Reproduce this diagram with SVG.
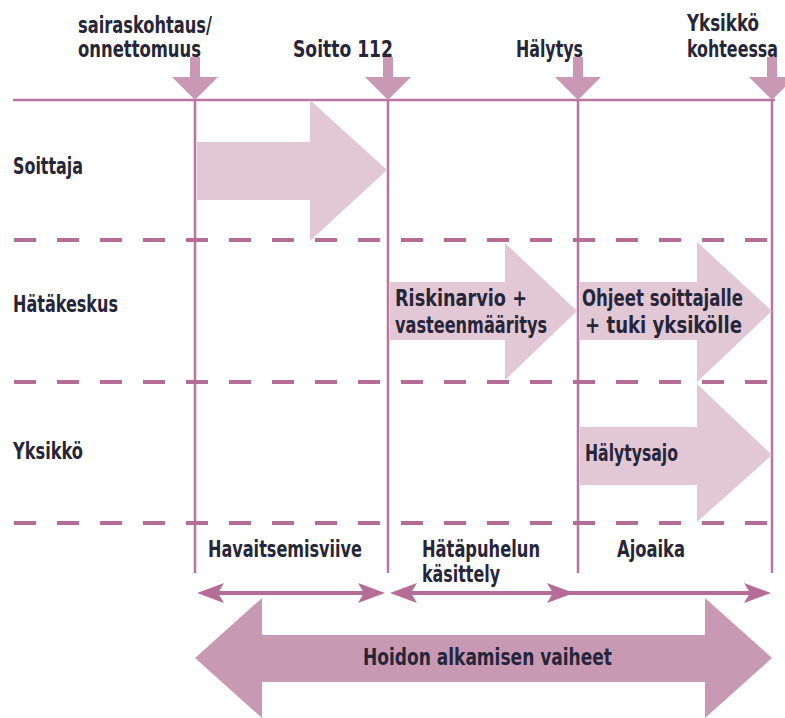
<svg xmlns="http://www.w3.org/2000/svg" width="785" height="718" viewBox="0 0 785 718">
<style>
.t{font-family:"Liberation Sans Narrow","DejaVu Sans Condensed","Liberation Sans",sans-serif;font-weight:bold;font-size:23px;fill:#26263a}
.ln{stroke:#b6769f;stroke-width:2.5;fill:none}
.dash{stroke:#b56d98;stroke-width:4;stroke-dasharray:22 21;fill:none}
.down{fill:#c898b4}
.light{fill:#e2c7d5}
.big{fill:#c899b2}
.dbl{stroke:#b56d98;stroke-width:4;fill:none}
.head{fill:#b56d98}
</style>
<rect width="785" height="718" fill="#ffffff"/>
<g id="grid">
<line class="ln" x1="13" y1="100" x2="775" y2="100"/>
<line class="ln" x1="195" y1="100" x2="195" y2="573"/>
<line class="ln" x1="388" y1="100" x2="388" y2="573"/>
<line class="ln" x1="578" y1="100" x2="578" y2="573"/>
<line class="ln" x1="772" y1="100" x2="772" y2="573"/>
<line class="dash" x1="14" y1="240" x2="773" y2="240"/>
<line class="dash" x1="14" y1="382" x2="773" y2="382"/>
<line class="dash" x1="14" y1="523" x2="773" y2="523"/>
</g>
<g id="lane-soittaja"><text class="t" x="13" y="174" textLength="70" lengthAdjust="spacingAndGlyphs">Soittaja</text></g>
<g id="lane-hatakeskus"><text class="t" x="13" y="312" textLength="105" lengthAdjust="spacingAndGlyphs">Hätäkeskus</text></g>
<g id="lane-yksikko"><text class="t" x="13" y="459" textLength="70" lengthAdjust="spacingAndGlyphs">Yksikkö</text></g>
<g id="m-sairaskohtaus">
<path class="down" d="M190,57H200V77H218L195,100L172,77H190Z"/>
<text class="t" x="78" y="33" textLength="134" lengthAdjust="spacingAndGlyphs">sairaskohtaus/</text>
<text class="t" x="78" y="57" textLength="123" lengthAdjust="spacingAndGlyphs">onnettomuus</text>
</g>
<g id="m-soitto">
<path class="down" d="M383,57H393V77H411L388,100L365,77H383Z"/>
<text class="t" x="293" y="57" textLength="100" lengthAdjust="spacingAndGlyphs">Soitto 112</text>
</g>
<g id="m-halytys">
<path class="down" d="M573,57H583V77H601L578,100L555,77H573Z"/>
<text class="t" x="516" y="57" textLength="67" lengthAdjust="spacingAndGlyphs">Hälytys</text>
</g>
<g id="m-kohteessa">
<path class="down" d="M767,57H777V77H785V87L772,100L749,77H767Z"/>
<text class="t" x="759" y="31" text-anchor="end" textLength="72" lengthAdjust="spacingAndGlyphs">Yksikkö</text>
<text class="t" x="778" y="57" text-anchor="end" textLength="91" lengthAdjust="spacingAndGlyphs">kohteessa</text>
</g>
<g id="a-soittaja">
<path class="light" d="M197,142H310V100L387,170L310,241V200H197Z"/>
</g>
<g id="a-riskinarvio">
<path class="light" d="M390,282H505V243L577,311L505,380V340H390Z"/>
<text class="t" x="395" y="306" textLength="132" lengthAdjust="spacingAndGlyphs">Riskinarvio +</text>
<text class="t" x="395" y="333" textLength="152" lengthAdjust="spacingAndGlyphs">vasteenmääritys</text>
</g>
<g id="a-ohjeet">
<path class="light" d="M580,282H697V242L772,311L697,382V340H580Z"/>
<text class="t" x="582" y="306" textLength="161" lengthAdjust="spacingAndGlyphs">Ohjeet soittajalle</text>
<text class="t" x="585" y="333" textLength="157" lengthAdjust="spacingAndGlyphs">+ tuki yksikölle</text>
</g>
<g id="a-halytysajo">
<path class="light" d="M580,427H697V384L772,455L697,522V485H580Z"/>
<text class="t" x="585" y="461" textLength="93" lengthAdjust="spacingAndGlyphs">Hälytysajo</text>
</g>
<g id="phase-labels">
<text class="t" x="208" y="557" textLength="154" lengthAdjust="spacingAndGlyphs">Havaitsemisviive</text>
<text class="t" x="422" y="557" textLength="118" lengthAdjust="spacingAndGlyphs">Hätäpuhelun</text>
<text class="t" x="422" y="582" textLength="78" lengthAdjust="spacingAndGlyphs">käsittely</text>
<text class="t" x="617" y="557" textLength="68" lengthAdjust="spacingAndGlyphs">Ajoaika</text>
</g>
<g id="connectors">
<line class="dbl" x1="210" y1="593" x2="372" y2="593"/>
<line class="dbl" x1="403" y1="593" x2="758" y2="593"/>
<path class="head" d="M197,593L224,583L218,593L224,603Z"/>
<path class="head" d="M385,593L358,583L364,593L358,603Z"/>
<path class="head" d="M390,593L417,583L411,593L417,603Z"/>
<path class="head" d="M574,593L547,583L553,593L547,603Z"/>
<path class="head" d="M771,593L744,583L750,593L744,603Z"/>
</g>
<g id="hoidon">
<path class="big" d="M195,658L262,598V635H705V598L772,658L705,718V682H262V718Z"/>
<text class="t" x="363" y="665" textLength="249" lengthAdjust="spacingAndGlyphs">Hoidon alkamisen vaiheet</text>
</g>
</svg>
